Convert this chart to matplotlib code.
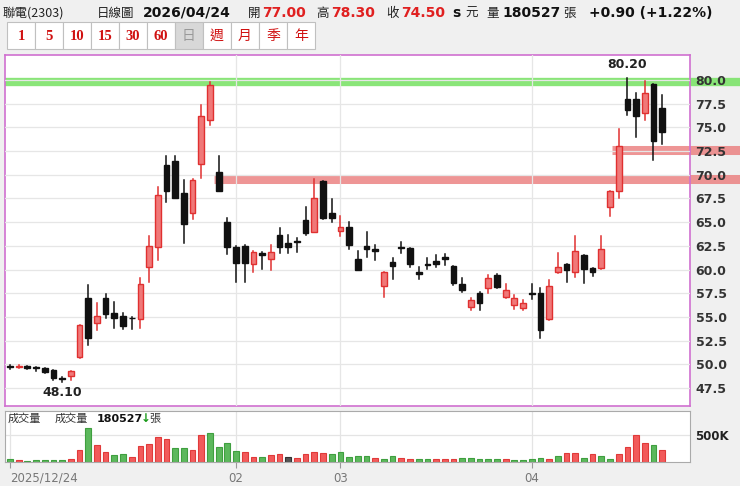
import matplotlib
matplotlib.use("Agg")
import matplotlib.pyplot as plt
from matplotlib.patches import Rectangle

plt.rcParams['font.family'] = ['Noto Sans CJK TC', 'DejaVu Sans']

opens = [49.8,49.7,49.8,49.6,49.6,49.35,48.5,48.8,50.75,57.0,54.35,57.0,55.45,55.1,54.85,54.8,60.3,62.4,71.0,71.5,68.05,66.0,71.1,75.8,70.25,65.0,62.35,62.5,60.55,61.7,61.1,63.6,62.8,62.9,65.2,64.0,69.3,66.0,64.05,64.5,61.1,62.5,62.2,58.3,60.8,62.25,62.25,59.75,60.5,60.95,61.3,60.4,58.5,56.0,57.5,58.05,59.4,57.1,56.3,55.9,57.4,57.5,54.75,59.7,60.6,59.7,61.5,60.15,60.15,66.6,68.3,77.95,77.95,76.55,79.55,77.0]
closes = [49.7,49.8,49.6,49.6,49.2,48.6,48.5,49.25,54.1,52.75,55.1,55.3,54.85,54.0,54.85,58.5,62.5,67.9,68.3,67.5,64.8,69.4,76.2,79.5,68.3,62.4,60.65,60.7,61.8,61.5,61.8,62.4,62.4,62.9,63.9,67.5,65.4,65.4,64.5,62.6,60.0,62.15,62.0,59.7,60.4,62.25,60.55,59.5,60.5,60.6,61.1,58.6,57.8,56.75,56.45,59.1,58.2,57.85,57.0,56.45,57.4,53.6,58.25,60.3,60.0,62.0,60.1,59.7,62.15,68.3,73.05,76.85,76.25,78.65,73.6,74.5]
highs = [49.9,49.9,49.85,49.7,49.65,49.4,48.7,49.3,54.2,58.4,56.45,57.4,56.55,55.4,55.0,59.1,63.5,68.75,72.0,72.0,69.4,69.6,77.4,79.8,72.0,65.4,62.5,62.6,62.0,61.8,62.6,64.35,63.6,63.3,66.6,69.55,69.3,67.45,65.65,65.0,62.0,64.0,62.6,59.7,61.2,62.9,62.25,60.3,61.2,61.5,61.6,60.4,59.1,57.0,57.6,59.4,59.5,58.5,57.3,56.8,58.5,58.0,58.9,61.7,60.6,63.55,61.5,60.15,63.5,68.3,74.85,80.2,78.6,79.9,79.6,78.4]
lows = [49.5,49.6,49.5,49.3,49.1,48.35,48.1,48.3,50.7,52.05,53.6,54.9,53.8,53.7,53.7,53.8,58.7,61.0,67.1,67.5,62.85,65.3,69.7,75.3,68.3,61.6,58.7,58.7,59.7,60.1,59.9,61.7,61.7,61.8,63.6,64.0,65.3,65.0,63.5,62.15,59.9,61.3,61.0,57.15,59.0,61.7,60.25,59.0,60.1,60.3,60.5,58.4,57.6,55.7,55.7,57.5,58.1,57.0,55.8,55.7,56.9,52.75,54.7,59.6,58.7,59.25,58.55,59.3,60.1,65.6,67.6,76.3,74.0,75.8,71.55,73.3]
volumes = [51,32,19,32,32,32,45,51,231,647,320,180,135,147,96,301,333,468,429,269,269,218,506,538,288,365,205,180,96,96,135,147,96,83,147,180,167,147,180,96,109,109,83,51,109,83,51,64,64,64,51,64,83,83,64,64,51,51,32,32,64,83,64,109,167,167,83,147,109,64,147,288,500,352,320,231]
vol_up = [0,1,0,0,0,0,0,1,1,0,1,1,0,0,1,1,1,1,1,0,0,1,1,0,0,0,0,1,1,0,1,1,2,1,1,1,1,0,0,0,0,0,1,0,0,1,1,0,0,1,1,1,0,0,0,0,0,1,0,0,0,0,1,0,1,1,0,1,0,0,1,1,1,1,0,1]
month_idx = [0, 26, 38, 60]
month_labels = ['2025/12/24', '02', '03', '04']
price_ticks = [47.5,50.0,52.5,55.0,57.5,60.0,62.5,65.0,67.5,70.0,72.5,75.0,77.5,80.0]

W, H = 740, 486
fig = plt.figure(figsize=(W/100, H/100), dpi=100, facecolor='#f0f0f0')
def fx(x): return x / W
def fy(y): return 1 - y / H

# header
hy = fy(13)
fig.text(fx(3), hy, '聯電(2303)', fontsize=9, va='center', color='#222')
fig.text(fx(97), hy, '日線圖', fontsize=9, va='center', color='#222')
fig.text(fx(143), hy, '2026/04/24', fontsize=10, fontweight='bold', va='center', color='#111', family='DejaVu Sans')
fig.text(fx(248), hy, '開', fontsize=9, va='center', color='#222')
fig.text(fx(262), hy, '77.00', fontsize=10, fontweight='bold', va='center', color='#e02020', family='DejaVu Sans')
fig.text(fx(316), hy, '高', fontsize=9, va='center', color='#222')
fig.text(fx(331), hy, '78.30', fontsize=10, fontweight='bold', va='center', color='#e02020', family='DejaVu Sans')
fig.text(fx(386), hy, '收', fontsize=9, va='center', color='#222')
fig.text(fx(401), hy, '74.50', fontsize=10, fontweight='bold', va='center', color='#e02020', family='DejaVu Sans')
fig.text(fx(452), hy, 's', fontsize=10, fontweight='bold', va='center', color='#111', family='DejaVu Sans')
fig.text(fx(465), hy, '元', fontsize=9, va='center', color='#222')
fig.text(fx(486), hy, '量', fontsize=9, va='center', color='#222')
fig.text(fx(502), hy, '180527', fontsize=10, fontweight='bold', va='center', color='#111', family='DejaVu Sans')
fig.text(fx(563), hy, '張', fontsize=9, va='center', color='#222')
fig.text(fx(589), hy, '+0.90 (+1.22%)', fontsize=10, fontweight='bold', va='center', color='#111', family='DejaVu Sans')

# buttons
btns = ['1','5','10','15','30','60','日','週','月','季','年']
bx = 7
for b in btns:
    w = 28
    grey = (b == '日')
    fig.patches.append(Rectangle((fx(bx), fy(49)), w/W, 27/H, transform=fig.transFigure,
                                 facecolor='#d8d8d8' if grey else 'white', edgecolor='#c0c0c0', lw=0.8))
    fig.text(fx(bx + w/2), fy(36), b, fontsize=10.5 if b.isdigit() else 10, ha='center', va='center',
             color='#999' if grey else '#d01010', fontweight='bold' if b.isdigit() else 'normal',
             family='Liberation Serif' if b.isdigit() else None)
    bx += w

# price axes
px0, px1, py0, py1 = 5, 690, 55, 406
ax = fig.add_axes([fx(px0), fy(py1), (px1-px0)/W, (py1-py0)/H])
ax.set_facecolor('white')
ax.set_xlim(-0.57, 78.2)
ax.set_ylim(45.6, 82.64)
for s in ax.spines.values():
    s.set_color('#d070d0'); s.set_linewidth(1.2)
ax.set_yticks(price_ticks)
ax.set_yticklabels(['%.1f' % v for v in price_ticks], fontsize=9, fontweight='bold', color='#333', family='DejaVu Sans')
ax.yaxis.tick_right()
ax.tick_params(axis='y', length=0, pad=4)
ax.set_xticks(month_idx[1:])
ax.tick_params(axis='x', length=0, labelbottom=False)
ax.grid(True, color='#e6e6e6', lw=0.9)
ax.set_axisbelow(False)

ax.plot([-0.57, 84.5], [79.8, 79.8], color='#7de36a', lw=6, alpha=0.9, clip_on=False, solid_capstyle='butt', zorder=0.6)
ax.plot([23.5, 84.5], [69.6, 69.6], color='#ea7b7b', lw=6.5, alpha=0.8, clip_on=False, solid_capstyle='butt', zorder=0.6)
ax.plot([69.2, 84.5], [72.6, 72.6], color='#ea7b7b', lw=6.5, alpha=0.8, clip_on=False, solid_capstyle='butt', zorder=0.6)

bw = 0.66
for i, (o, c, h, l) in enumerate(zip(opens, closes, highs, lows)):
    up = c > o
    col = '#e03030' if up else '#111111'
    ax.plot([i, i], [l, h], color=col, lw=1.1, zorder=3)
    bot = min(o, c); ht = max(abs(c - o), 0.08)
    ax.add_patch(Rectangle((i - bw/2, bot), bw, ht, facecolor='#f07878' if up else '#111111',
                           edgecolor=col, lw=1, zorder=4))

ax.text(71, 80.9, '80.20', ha='center', va='bottom', fontsize=9, fontweight='bold', color='#222', family='DejaVu Sans')
ax.text(6, 47.7, '48.10', ha='center', va='top', fontsize=9, fontweight='bold', color='#222', family='DejaVu Sans')

# volume axes
vy0, vy1 = 411, 462
vax = fig.add_axes([fx(px0), fy(vy1), (px1-px0)/W, (vy1-vy0)/H])
vax.set_facecolor('white')
vax.set_xlim(-0.57, 78.2)
vax.set_ylim(0, 962)
for s in vax.spines.values():
    s.set_color('#aaaaaa')
vcol = {0: '#3f9f3f', 1: '#e03a3a', 2: '#333333'}
vfill = {0: '#5cb85c', 1: '#f25a5a', 2: '#555555'}
for i, (v, u) in enumerate(zip(volumes, vol_up)):
    vax.add_patch(Rectangle((i - bw/2, 0), bw, v, facecolor=vfill[u], edgecolor=vcol[u], lw=0.8))
vax.set_yticks([500])
vax.set_yticklabels(['500K'], fontsize=8.5, fontweight='bold', color='#222', family='DejaVu Sans')
vax.yaxis.tick_right()
vax.tick_params(axis='y', length=0, pad=4)
vax.set_xticks(month_idx)
vax.set_xticklabels(month_labels, fontsize=8.5, color='#777', family='DejaVu Sans')
vax.get_xticklabels()[0].set_ha('left')
vax.tick_params(axis='x', length=4, color='#999', pad=3)
vax.grid(True, color='#e4e4e4', lw=0.9)
vax.set_axisbelow(True)
vax.text(0.004, 0.85, '成交量', transform=vax.transAxes, fontsize=8, va='center', color='#333')
vax.text(0.073, 0.85, '成交量', transform=vax.transAxes, fontsize=8, va='center', color='#333')
vax.text(0.134, 0.85, '180527', transform=vax.transAxes, fontsize=8, va='center', fontweight='bold', color='#111', family='DejaVu Sans')
vax.text(0.198, 0.85, '↓', transform=vax.transAxes, fontsize=8.5, va='center', fontweight='bold', color='#1a9a1a', family='DejaVu Sans')
vax.text(0.211, 0.85, '張', transform=vax.transAxes, fontsize=8, va='center', color='#333')

fig.savefig('out.png', dpi=100, facecolor=fig.get_facecolor())
